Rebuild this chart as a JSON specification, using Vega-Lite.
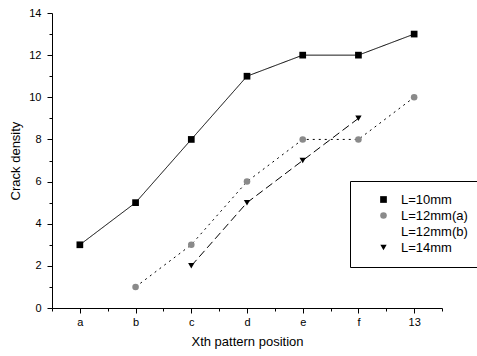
{
  "$schema": "https://vega.github.io/schema/vega-lite/v6.json",
  "width": 390,
  "height": 295,
  "autosize": {"type": "none"},
  "padding": {"left": 52, "top": 13, "right": 35, "bottom": 48},
  "background": "white",
  "config": {
    "view": {"stroke": null},
    "font": "Liberation Sans",
    "axis": {
      "domainColor": "black",
      "domainWidth": 1,
      "tickColor": "black",
      "tickWidth": 1,
      "grid": false,
      "labelColor": "black",
      "titleColor": "black",
      "labelFontSize": 11,
      "titleFontSize": 13,
      "titleFontWeight": "normal",
      "labelFont": "Liberation Sans",
      "titleFont": "Liberation Sans"
    },
    "legend": {
      "title": null,
      "orient": "none",
      "legendX": 298,
      "legendY": 168,
      "strokeColor": "black",
      "fillColor": "white",
      "padding": 12,
      "rowPadding": 2,
      "labelFontSize": 13,
      "labelColor": "black",
      "labelFont": "Liberation Sans",
      "labelOffset": 11,
      "symbolOffset": 15,
      "symbolStrokeWidth": 0
    }
  },
  "data": {
    "values": [
      {"pos": 1, "series": "L=10mm", "density": 3},
      {"pos": 2, "series": "L=10mm", "density": 5},
      {"pos": 3, "series": "L=10mm", "density": 8},
      {"pos": 4, "series": "L=10mm", "density": 11},
      {"pos": 5, "series": "L=10mm", "density": 12},
      {"pos": 6, "series": "L=10mm", "density": 12},
      {"pos": 7, "series": "L=10mm", "density": 13},
      {"pos": 2, "series": "L=12mm(a)", "density": 1},
      {"pos": 3, "series": "L=12mm(a)", "density": 3},
      {"pos": 4, "series": "L=12mm(a)", "density": 6},
      {"pos": 5, "series": "L=12mm(a)", "density": 8},
      {"pos": 6, "series": "L=12mm(a)", "density": 8},
      {"pos": 7, "series": "L=12mm(a)", "density": 10},
      {"pos": 3, "series": "L=14mm", "density": 2},
      {"pos": 4, "series": "L=14mm", "density": 5},
      {"pos": 5, "series": "L=14mm", "density": 7},
      {"pos": 6, "series": "L=14mm", "density": 9}
    ]
  },
  "encoding": {
    "x": {
      "field": "pos",
      "type": "quantitative",
      "scale": {"domain": [0.5, 7.5], "nice": false, "zero": false},
      "axis": {
        "title": "Xth pattern position",
        "values": [0.5, 1, 1.5, 2, 2.5, 3, 3.5, 4, 4.5, 5, 5.5, 6, 6.5, 7, 7.5],
        "labelExpr": "datum.value % 1 === 0 ? ['a','b','c','d','e','f','13'][datum.value - 1] : ''",
        "tickSize": {"condition": {"test": "datum.value % 1 === 0", "value": 5}, "value": 3},
        "labelPadding": 3,
        "titlePadding": 8,
        "labelFlush": false
      }
    },
    "y": {
      "field": "density",
      "type": "quantitative",
      "scale": {"domain": [0, 14], "nice": false},
      "axis": {
        "title": "Crack density",
        "values": [0, 1, 2, 3, 4, 5, 6, 7, 8, 9, 10, 11, 12, 13, 14],
        "labelExpr": "datum.value % 2 === 0 ? datum.label : ''",
        "tickSize": {"condition": {"test": "datum.value % 2 === 0", "value": 5}, "value": 3},
        "labelPadding": 6,
        "titlePadding": 6,
        "labelFlush": false
      }
    }
  },
  "layer": [
    {
      "mark": {"type": "line", "color": "black", "strokeWidth": 1},
      "encoding": {
        "detail": {"field": "series"},
        "strokeDash": {
          "field": "series",
          "scale": {
            "domain": ["L=10mm", "L=12mm(a)", "L=12mm(b)", "L=14mm"],
            "range": [[1, 0], [2, 4], [5, 4], [8, 4]]
          }
        }
      }
    },
    {
      "mark": {"type": "point", "filled": true, "opacity": 1},
      "encoding": {
        "size": {
          "field": "series",
          "scale": {
            "domain": ["L=10mm", "L=12mm(a)", "L=12mm(b)", "L=14mm"],
            "range": [45, 40, 40, 110]
          }
        },
        "shape": {
          "field": "series",
          "scale": {
            "domain": ["L=10mm", "L=12mm(a)", "L=12mm(b)", "L=14mm"],
            "range": ["square", "circle", "circle", "triangle-down"]
          }
        },
        "color": {
          "field": "series",
          "scale": {
            "domain": ["L=10mm", "L=12mm(a)", "L=12mm(b)", "L=14mm"],
            "range": ["black", "#8a8a8a", "white", "black"]
          }
        }
      }
    }
  ]
}
